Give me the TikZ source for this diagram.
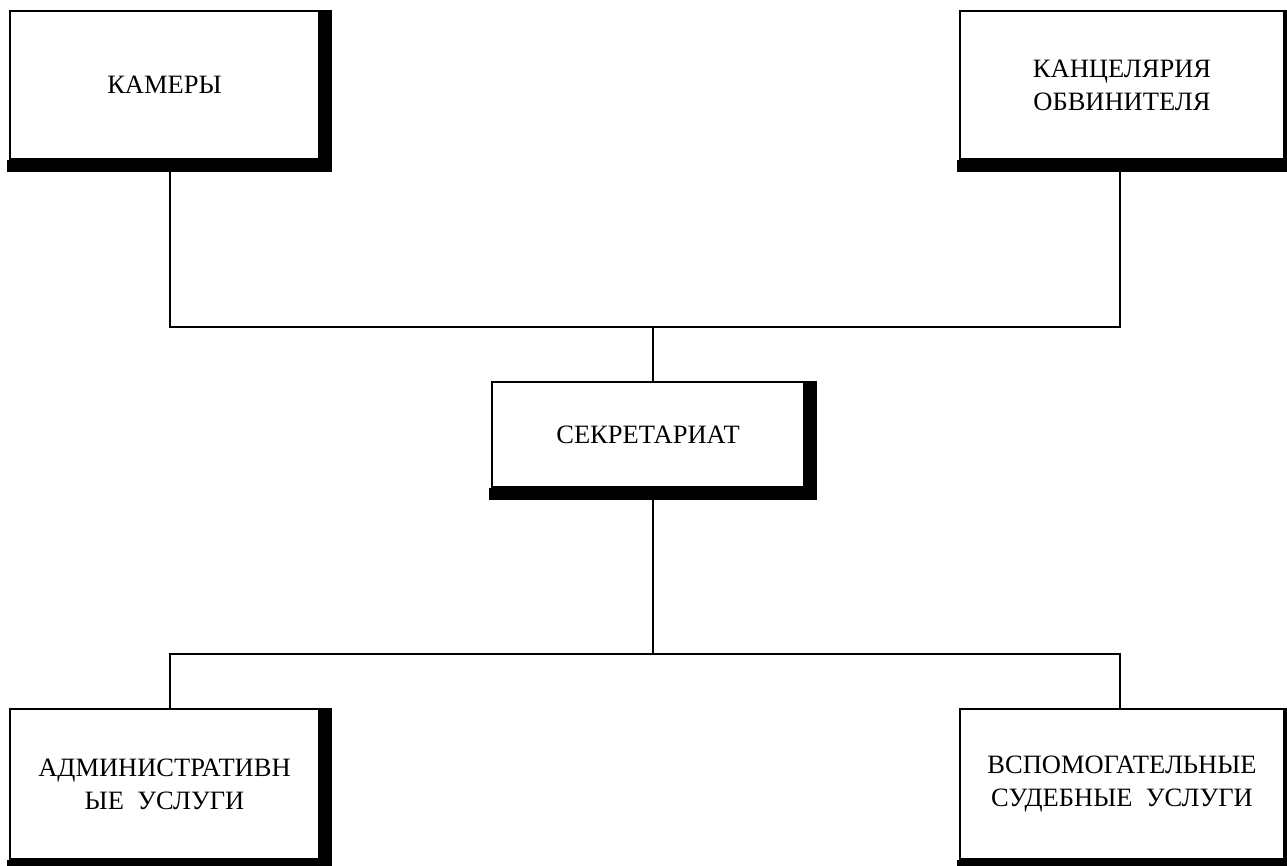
\documentclass[tikz,border=0pt]{standalone}
\usepackage{fontspec}
\setmainfont{Liberation Serif}
\usepackage{tikz}
\usetikzlibrary{positioning}

\begin{document}
\begin{tikzpicture}[
        x=1pt, y=-1pt,
        unit/.style={rectangle, draw, fill=white, line width=2pt, inner sep=0pt, align=center, font=\fontsize{26.5}{33}\selectfont},
        link/.style={line width=2.5pt},
        shade/.style={fill=black}
    ]
        \useasboundingbox (0,0) rectangle (1287,865);

        % Top units
        \node[unit, minimum width=309pt, minimum height=148pt] (cam) at (164.5,85) {КАМЕРЫ};
        \node[unit, minimum width=324pt, minimum height=148pt] (office) at (1122,85) {КАНЦЕЛЯРИЯ\\ОБВИНИТЕЛЯ};

        % Secretariat
        \node[unit, minimum width=312pt, minimum height=105pt] (secr) at (648,434.5) {СЕКРЕТАРИАТ};

        % Bottom units
        \node[unit, minimum width=309pt, minimum height=150pt] (admin) at (164.5,784) {АДМИНИСТРАТИВН\\ЫЕ\ \ УСЛУГИ};
        \node[unit, minimum width=324pt, minimum height=150pt] (court) at (1122,784) {ВСПОМОГАТЕЛЬНЫЕ\\СУДЕБНЫЕ\ \ УСЛУГИ};

        % Junctions
        \coordinate (jtop) at (653,327);
        \coordinate (jbot) at (653,654);

        % Connectors
        \draw[link] ([xshift=5.5pt]cam.south) |- (jtop) -| ([xshift=-2pt]office.south);
        \draw[link] (jtop) -- (jtop |- secr.north);
        \draw[link] (jtop |- secr.south) -- (jbot);
        \draw[link] ([xshift=5.5pt]admin.north) |- (jbot) -| ([xshift=-2pt]court.north);

        % Shadows (right and bottom)
        \foreach \n in {cam, office, secr, admin, court} {
            \fill[shade] ([xshift=-0.5pt]\n.north east) rectangle ([shift={(12pt,-12pt)}]\n.south east);
            \fill[shade] ([shift={(-2pt,0.5pt)}]\n.south west) rectangle ([shift={(12pt,-12pt)}]\n.south east);
        }
\end{tikzpicture}
\end{document}
